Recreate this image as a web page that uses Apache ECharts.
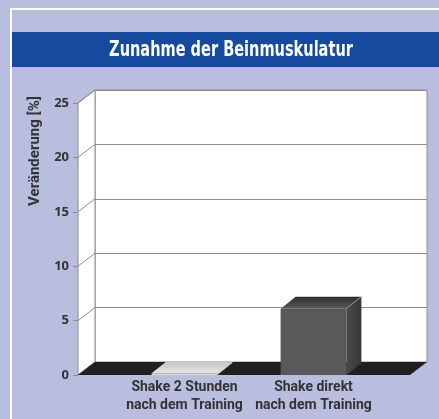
<!DOCTYPE html>
<html>
<head>
<meta charset="utf-8">
<title>Zunahme der Beinmuskulatur</title>
<script src="https://cdn.jsdelivr.net/npm/echarts@6/dist/echarts.min.js"></script>
<style>
  html, body { margin: 0; padding: 0; background: #b9bedf; }
  #chart { width: 439px; height: 419px; }
</style>
</head>
<body>
<div id="chart"></div>
<script>
// Daten
const categories = ['Shake 2 Stunden\nnach dem Training', 'Shake direkt\nnach dem Training'];
const values = [0.15, 6.1];
const yTicks = [0, 5, 10, 15, 20, 25];
const yMax = 25;
const yStep = 5;

// Stil
const FONT = 'Roboto, "DejaVu Sans Condensed", sans-serif';
const TEXT = '#333333';
const LINE = '#8c8c8c';
const DEPTH = [17, -13];     // Tiefe der Wände / des Bodens
const BAR_DEPTH = [15, -12]; // Tiefe der Säulen
const barStyles = [
  { front: '#d9d9d9', side: ['#c8c8c8', '#b4b4b4'], top: ['#e4e4e4', '#c4c4c4'], edge: '#eeeeee' },
  { front: '#58595b', side: ['#4a4a4c', '#363638'], top: ['#5a5a5c', '#2c2c2e'], edge: '#9a9a9a' }
];

const chart = echarts.init(document.getElementById('chart'), null, { renderer: 'canvas' });

// linke Seitenwand, aus dem Rechteck des vorderen Grids
function renderWalls(params, api) {
  const r = params.coordSys;
  const [dx, dy] = DEPTH;
  const x0 = r.x, y0 = r.y, y1 = r.y + r.height;
  return {
    type: 'polygon',
    shape: { points: [[x0, y0], [x0 + dx, y0 + dy], [x0 + dx, y1 + dy], [x0, y1]] },
    style: { fill: '#ffffff', stroke: LINE, lineWidth: 1 }
  };
}

// Diagonalen auf der Seitenwand, je Tick
function renderSideLine(params, api) {
  const p = api.coord([0, api.value(1)]);
  const [dx, dy] = DEPTH;
  return {
    type: 'line',
    shape: { x1: p[0], y1: p[1], x2: p[0] + dx, y2: p[1] + dy },
    style: { stroke: LINE, lineWidth: 1 }
  };
}

function renderFloor(params, api) {
  const r = params.coordSys;
  const [dx, dy] = DEPTH;
  const x0 = r.x, x1 = r.x + r.width, y1 = r.y + r.height;
  return {
    type: 'polygon',
    shape: { points: [[x0, y1], [x1, y1], [x1 + dx, y1 + dy], [x0 + dx, y1 + dy]] },
    style: { fill: '#231f20' }
  };
}

// 3D-Säule
function renderBar(params, api) {
  const idx = api.value(0);
  const top = api.coord([idx, api.value(1)]);
  const base = api.coord([idx, 0]);
  const w = api.size([1, 0])[0] * 0.51;
  const x0 = top[0] - w / 2, x1 = top[0] + w / 2;
  const [dx, dy] = BAR_DEPTH;
  const s = barStyles[params.dataIndex];
  return {
    type: 'group',
    children: [
      {
        type: 'polygon',
        shape: { points: [[x1, top[1]], [x1 + dx, top[1] + dy], [x1 + dx, base[1] + dy], [x1, base[1]]] },
        style: {
          fill: new echarts.graphic.LinearGradient(0, 0, 1, 0, [
            { offset: 0, color: s.side[0] },
            { offset: 1, color: s.side[1] }
          ])
        }
      },
      {
        type: 'polygon',
        shape: { points: [[x0, top[1]], [x0 + dx, top[1] + dy], [x1 + dx, top[1] + dy], [x1, top[1]]] },
        style: {
          fill: new echarts.graphic.LinearGradient(0, 1, 0, 0, [
            { offset: 0, color: s.top[0] },
            { offset: 1, color: s.top[1] }
          ])
        }
      },
      {
        type: 'rect',
        shape: { x: x0, y: top[1], width: w, height: Math.max(base[1] - top[1], 1) },
        style: { fill: s.front }
      },
      {
        type: 'line',
        shape: { x1: x1, y1: top[1], x2: x1 + dx, y2: top[1] + dy },
        style: { stroke: s.edge, lineWidth: 1, opacity: 0.8 }
      }
    ]
  };
}

const option = {
  backgroundColor: '#b9bedf',
  animation: false,
  graphic: [
    { type: 'line', shape: { x1: 10, y1: 9, x2: 439, y2: 9 }, style: { stroke: '#ffffff', lineWidth: 2 } },
    { type: 'line', shape: { x1: 11, y1: 9, x2: 11, y2: 419 }, style: { stroke: '#ffffff', lineWidth: 2 } },
    { type: 'rect', shape: { x: 12, y: 32, width: 427, height: 35 }, style: { fill: '#164a9f' } },
    {
      type: 'text', x: 231, y: 51, scaleX: 0.77, scaleY: 1, originX: 0, originY: 0,
      style: {
        text: 'Zunahme der Beinmuskulatur', fill: '#ffffff',
        font: 'bold 21px "DejaVu Sans Condensed", sans-serif',
        align: 'center', verticalAlign: 'middle'
      }
    },
    {
      type: 'text', x: 35, y: 151, rotation: Math.PI / 2,
      style: {
        text: 'Veränderung [%]', fill: TEXT, font: 'bold 15px ' + FONT,
        align: 'center', verticalAlign: 'middle'
      }
    }
  ],
  grid: [
    // Rückwand
    { left: 95, top: 90, right: 12, bottom: 57, show: true, backgroundColor: '#ffffff', borderColor: LINE, borderWidth: 1 },
    // vordere Ebene (Achse)
    { left: 78, top: 103, right: 29, bottom: 44 },
    // Säulen
    { left: 120, top: 103, right: 61, bottom: 44 }
  ],
  xAxis: [
    { gridIndex: 0, type: 'category', data: categories, show: false },
    { gridIndex: 1, type: 'value', min: 0, max: 1, show: false },
    {
      gridIndex: 2, type: 'category', data: categories,
      axisLine: { show: false }, axisTick: { show: false },
      axisLabel: { color: TEXT, fontFamily: FONT, fontWeight: 'bold', fontSize: 14, lineHeight: 18, margin: 3, interval: 0 }
    }
  ],
  yAxis: [
    {
      gridIndex: 0, type: 'value', min: 0, max: yMax, interval: yStep,
      axisLine: { show: false }, axisTick: { show: false }, axisLabel: { show: false },
      splitLine: { show: true, lineStyle: { color: LINE, width: 1 } }
    },
    {
      gridIndex: 1, type: 'value', min: 0, max: yMax, interval: yStep,
      axisLine: { show: true, lineStyle: { color: LINE, width: 1 } },
      axisTick: { show: true, length: 5, lineStyle: { color: LINE } },
      axisLabel: { color: TEXT, fontFamily: '"Open Sans", sans-serif', fontWeight: 'bold', fontSize: 13, margin: 9 },
      splitLine: { show: false }
    },
    { gridIndex: 2, type: 'value', min: 0, max: yMax, show: false }
  ],
  series: [
    {
      name: 'Seitenwand', type: 'custom', xAxisIndex: 1, yAxisIndex: 1, clip: false, z: 1,
      data: [[0, 0]], renderItem: renderWalls, silent: true
    },
    {
      name: 'Seitenlinien', type: 'custom', xAxisIndex: 1, yAxisIndex: 1, clip: false, z: 2,
      data: yTicks.map(v => [0, v]), renderItem: renderSideLine, silent: true
    },
    {
      name: 'Boden', type: 'custom', xAxisIndex: 1, yAxisIndex: 1, clip: false, z: 3,
      data: [[0, 0]], renderItem: renderFloor, silent: true
    },
    {
      name: 'Veränderung', type: 'custom', xAxisIndex: 2, yAxisIndex: 2, clip: false, z: 4,
      data: values.map((v, i) => [i, v]), renderItem: renderBar
    }
  ]
};

chart.setOption(option);
</script>
</body>
</html>
